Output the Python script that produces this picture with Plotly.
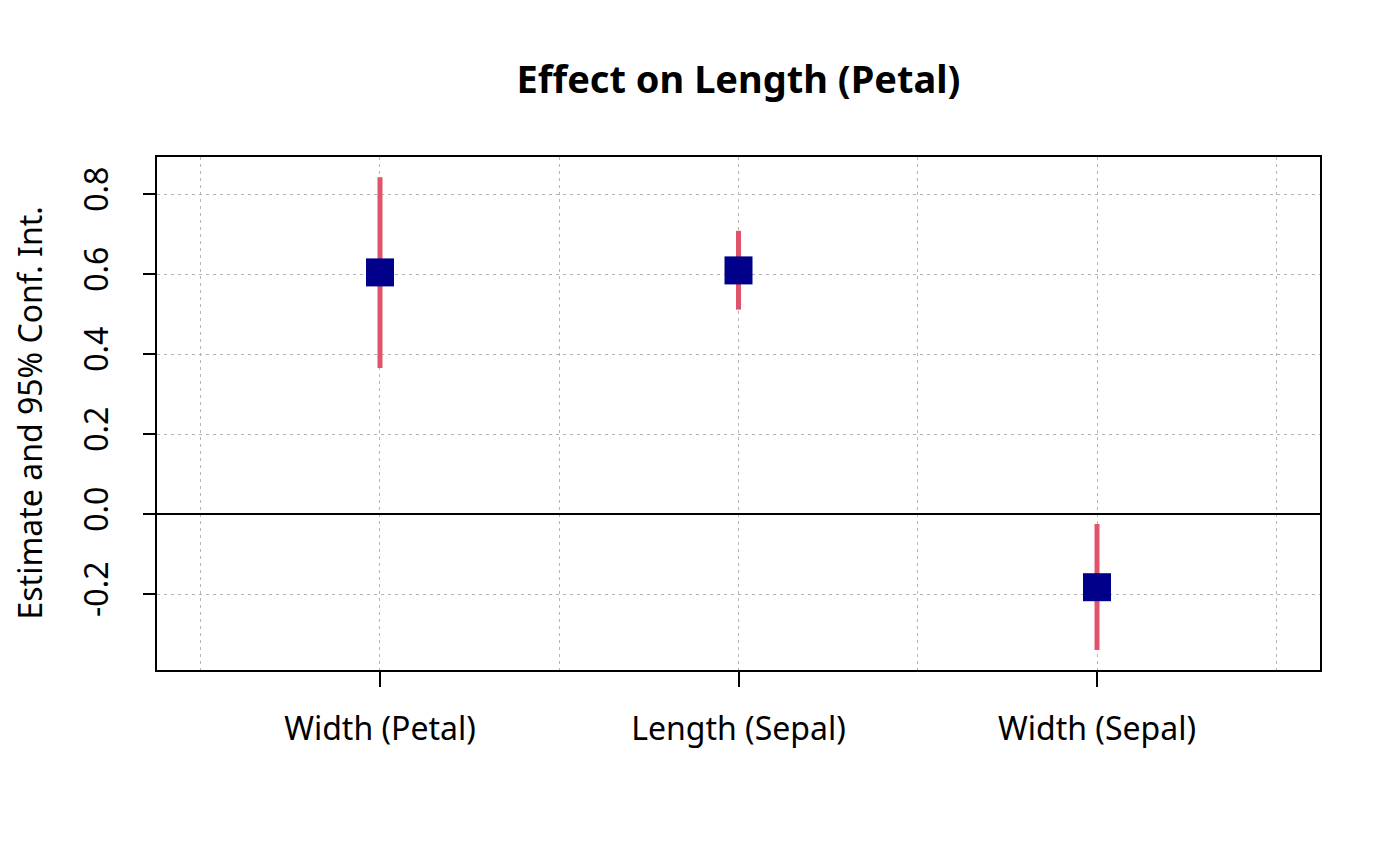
import plotly.graph_objects as go

# coefficient estimates with 95% CI
terms = ['Width (Petal)', 'Length (Sepal)', 'Width (Sepal)']
estimate = [0.604, 0.609, -0.183]
ci_low = [0.365, 0.511, -0.340]
ci_high = [0.842, 0.708, -0.025]
y_ticks = [-0.2, 0.0, 0.2, 0.4, 0.6, 0.8]

pos = list(range(1, len(terms) + 1))
err_up = [h - e for h, e in zip(ci_high, estimate)]
err_down = [e - l for e, l in zip(estimate, ci_low)]

fnt = 'Noto Sans'
grid_col = '#B4B4B4'
lw = 1.6

fig = go.Figure()
fig.add_trace(go.Scatter(
    x=pos, y=estimate, mode='markers',
    marker=dict(symbol='square', size=28, color='#00008B',
                line=dict(width=0)),
    error_y=dict(type='data', symmetric=False, array=err_up,
                 arrayminus=err_down, width=0, thickness=5,
                 color='#DF536B'),
    showlegend=False,
))

# page has an 8px body margin, so margins are shifted to compensate
fig.update_layout(
    width=1400, height=866,
    margin=dict(l=149, r=88, t=149, b=204, autoexpand=False),
    paper_bgcolor='white', plot_bgcolor='white',
    font=dict(family=fnt, size=32, color='black'),
    title=dict(text='<b>Effect on Length (Petal)</b>', x=0.5, xref='paper',
               y=1 - 72 / 866, yref='container', yanchor='middle',
               xanchor='center', font=dict(size=38, family=fnt)),
)

# y axis label placed as an annotation so it can sit further out
fig.add_annotation(
    text='Estimate and 95% Conf. Int.', textangle=-90,
    x=0, xref='paper', y=0.5, yref='paper', xshift=-128,
    xanchor='center', yanchor='middle', showarrow=False,
    font=dict(size=32, family=fnt),
)

fig.update_xaxes(
    range=[0.378, 3.622], tickvals=pos, ticktext=terms, automargin=False,
    ticks='outside', ticklen=15, tickcolor='black', tickwidth=lw,
    ticklabelstandoff=15,
    showline=True, linecolor='black', linewidth=lw, mirror=True,
    showgrid=True, gridcolor=grid_col, griddash='3px,4px', gridwidth=1,
    minor=dict(tick0=0.5, dtick=0.5, showgrid=True, gridcolor=grid_col,
               griddash='3px,4px', ticks=''),
    zeroline=False,
)

fig.update_yaxes(
    range=[-0.39, 0.8925], tickvals=y_ticks, automargin=False,
    ticktext=['%.1f' % v for v in y_ticks], tickangle=-90,
    ticks='outside', ticklen=12, tickcolor='black', tickwidth=lw,
    ticklabelstandoff=22,
    showline=True, linecolor='black', linewidth=lw, mirror=True,
    showgrid=True, gridcolor=grid_col, griddash='3px,4px', gridwidth=1,
    zeroline=True, zerolinecolor='black', zerolinewidth=lw,
)

fig.write_html('out.html')
